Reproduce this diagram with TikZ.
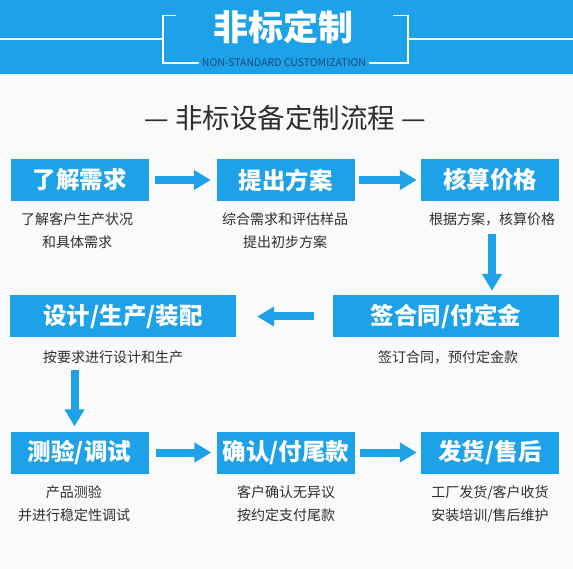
\documentclass[tikz,border=0pt]{standalone}
\usepackage{fontspec}
\setmainfont{Noto Sans CJK SC}
\usetikzlibrary{arrows.meta,calc}
\definecolor{cblue}{HTML}{1DA1E8}
\definecolor{navy}{HTML}{174A7A}
\definecolor{txt}{HTML}{2E2E2E}
\definecolor{bg}{HTML}{FAFAFA}
\begin{document}
\begin{tikzpicture}[x=1pt,y=-1pt,
  stepbox/.style={fill=cblue, text=white, minimum width=138pt, minimum height=42pt, inner sep=0pt,
    font=\fontsize{23.5}{26}\selectfont\bfseries},
  widebox/.style={stepbox, minimum width=226pt},
  desc/.style={text=txt, font=\fontsize{14}{23}\selectfont, align=center, inner sep=0pt},
  blk/.style={draw=cblue, line width=8pt, -{Triangle[width=19pt,length=17pt]}},
  brk/.style={draw=white, line width=1.6pt}]
\useasboundingbox (0,0) rectangle (573,569);
\fill[bg] (0,0) rectangle (573,569);
% header band
\fill[cblue] (0,0) rectangle (573,74);
\node[text=white, font=\fontsize{35}{38}\selectfont\bfseries, inner sep=0pt] (title) at (283,27) {非标定制};
\node[text=navy, font=\fontsize{10.5}{12}\selectfont, inner sep=2.5pt] (sub) at (284,63) {NON-STANDARD CUSTOMIZATION};
\coordinate (lt) at (162.7,15.7);
\coordinate (rt) at (408,15.7);
\draw[brk] (0,39) -- (lt |- 0,39);
\draw[brk] (176,15.7) -- (lt) -- (lt |- sub.west) -- (sub.west);
\draw[brk] (sub.east) -- (rt |- sub.east) -- (rt) -- (393,15.7);
\draw[brk] (rt |- 0,39) -- (573,39);
% section heading
\node[text=txt, font=\fontsize{27.5}{30}\selectfont, inner sep=0pt] (head) at (285,118) {— 非标设备定制流程 —};
% row 1
\node[stepbox] (b1) at (79.5,180) {了解需求};
\node[stepbox] (b2) at (285.5,180) {提出方案};
\node[stepbox] (b3) at (490,180) {核算价格};
\node[desc] (d1) at (77,230.5) {了解客户生产状况\\和具体需求};
\node[desc] (d2) at (285,230.5) {综合需求和评估样品\\提出初步方案};
\node[desc] (d3) at (492,219) {根据方案，核算价格};
% row 2
\node[widebox] (b4) at (446,316.5) {签合同/付定金};
\node[widebox] (b5) at (123,316.5) {设计/生产/装配};
\node[desc] (d4) at (448,357) {签订合同，预付定金款};
\node[desc] (d5) at (113,357) {按要求进行设计和生产};
% row 3
\node[stepbox] (b6) at (79.5,452.5) {测验/调试};
\node[stepbox] (b7) at (286,452.5) {确认/付尾款};
\node[stepbox] (b8) at (490,452.5) {发货/售后};
\node[desc] (d6) at (74,504) {产品测验\\并进行稳定性调试};
\node[desc] (d7) at (286,504) {客户确认无异议\\按约定支付尾款};
\node[desc] (d8) at (490,504) {工厂发货/客户收货\\安装培训/售后维护};
% arrows
\draw[blk, shorten <=6pt, shorten >=5.5pt] (b1.east) -- (b2.west);
\draw[blk, shorten <=4.5pt, shorten >=4pt] (b2.east) -- (b3.west);
\draw[blk, shorten <=8pt, shorten >=4.5pt] (d3.south) -- (d3.south |- b4.north);
\draw[blk, shorten <=19pt, shorten >=21pt] (b4.west) -- (b5.east);
\draw[blk, shorten <=6pt, shorten >=5pt] ($(d5.south -| b6.north)+(-5,0)$) -- ($(b6.north)+(-5,0)$);
\draw[blk, shorten <=7pt, shorten >=5.5pt] (b6.east) -- (b7.west);
\draw[blk, shorten <=5pt, shorten >=4pt] (b7.east) -- (b8.west);
\end{tikzpicture}
\end{document}
